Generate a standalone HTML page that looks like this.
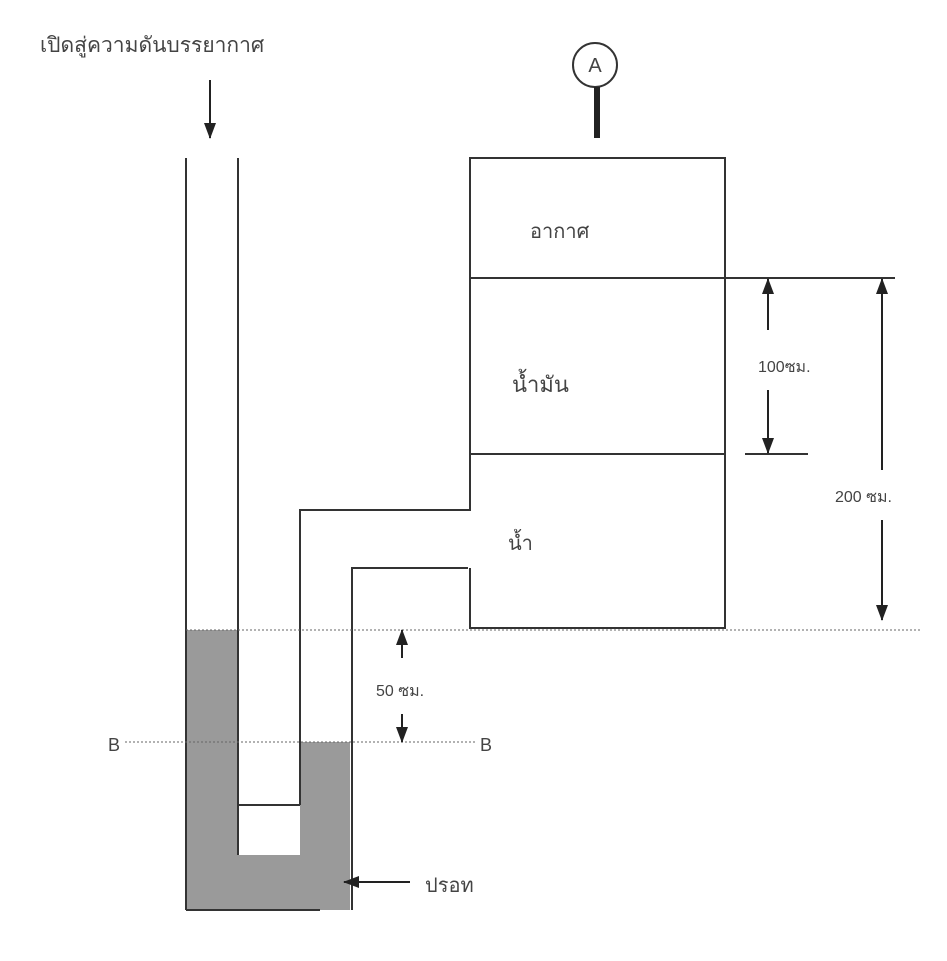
<!DOCTYPE html>
<html><head><meta charset="utf-8"><style>
body{margin:0;background:#fff}
svg text{font-family:"Liberation Sans","Noto Sans CJK SC",sans-serif;fill:#444}
</style></head><body>
<svg width="947" height="956" viewBox="0 0 947 956" xmlns="http://www.w3.org/2000/svg">
<defs><marker id="a" markerWidth="16" markerHeight="12" refX="15" refY="6" orient="auto-start-reverse" markerUnits="userSpaceOnUse"><path d="M0,0 L16,6 L0,12 Z" fill="#222"/></marker></defs>
<path d="M186,630 H238 V855 H300 V742 H350 V910 H186 Z" fill="#9a9a9a"/>
<g stroke="#333" stroke-width="2" fill="none">
<line x1="186" y1="158" x2="186" y2="910"/>
<line x1="238" y1="158" x2="238" y2="855"/>
<line x1="238" y1="805" x2="300" y2="805"/>
<polyline points="300,805 300,510 470,510 470,158 725,158 725,628 470,628 470,568"/>
<polyline points="468,568 352,568 352,910"/>
<line x1="186" y1="910" x2="320" y2="910"/>
<line x1="470" y1="278" x2="725" y2="278"/>
<line x1="470" y1="454" x2="725" y2="454"/>
<line x1="725" y1="278" x2="895" y2="278"/>
<line x1="745" y1="454" x2="808" y2="454"/>
</g>
<g stroke="#666" stroke-width="1" stroke-dasharray="2,2">
<line x1="186" y1="630" x2="920" y2="630"/>
<line x1="125" y1="742" x2="475" y2="742"/>
</g>
<circle cx="595" cy="65" r="22" fill="#fff" stroke="#333" stroke-width="2"/>
<text x="595" y="72" font-size="20" text-anchor="middle">A</text>
<line x1="597" y1="87" x2="597" y2="138" stroke="#222" stroke-width="6"/>
<g stroke="#222" stroke-width="2">
<line x1="210" y1="80" x2="210" y2="138" marker-end="url(#a)"/>
<line x1="402" y1="658" x2="402" y2="630" marker-end="url(#a)"/>
<line x1="402" y1="714" x2="402" y2="742" marker-end="url(#a)"/>
<line x1="768" y1="330" x2="768" y2="279" marker-end="url(#a)"/>
<line x1="768" y1="390" x2="768" y2="453" marker-end="url(#a)"/>
<line x1="882" y1="470" x2="882" y2="279" marker-end="url(#a)"/>
<line x1="882" y1="520" x2="882" y2="620" marker-end="url(#a)"/>
<line x1="410" y1="882" x2="344" y2="882" marker-end="url(#a)"/>
</g>
<text x="40" y="52" font-size="21">เปิดสู่ความดันบรรยากาศ</text>
<text x="530" y="238" font-size="20">อากาศ</text>
<text x="512" y="392" font-size="22">น้ำมัน</text>
<text x="508" y="550" font-size="20">น้ำ</text>
<text x="758" y="372" font-size="16">100ซม.</text>
<text x="835" y="502" font-size="16">200 ซม.</text>
<text x="376" y="696" font-size="16">50 ซม.</text>
<text x="108" y="751" font-size="18">B</text>
<text x="480" y="751" font-size="18">B</text>
<text x="425" y="892" font-size="20">ปรอท</text>
</svg>
</body></html>
